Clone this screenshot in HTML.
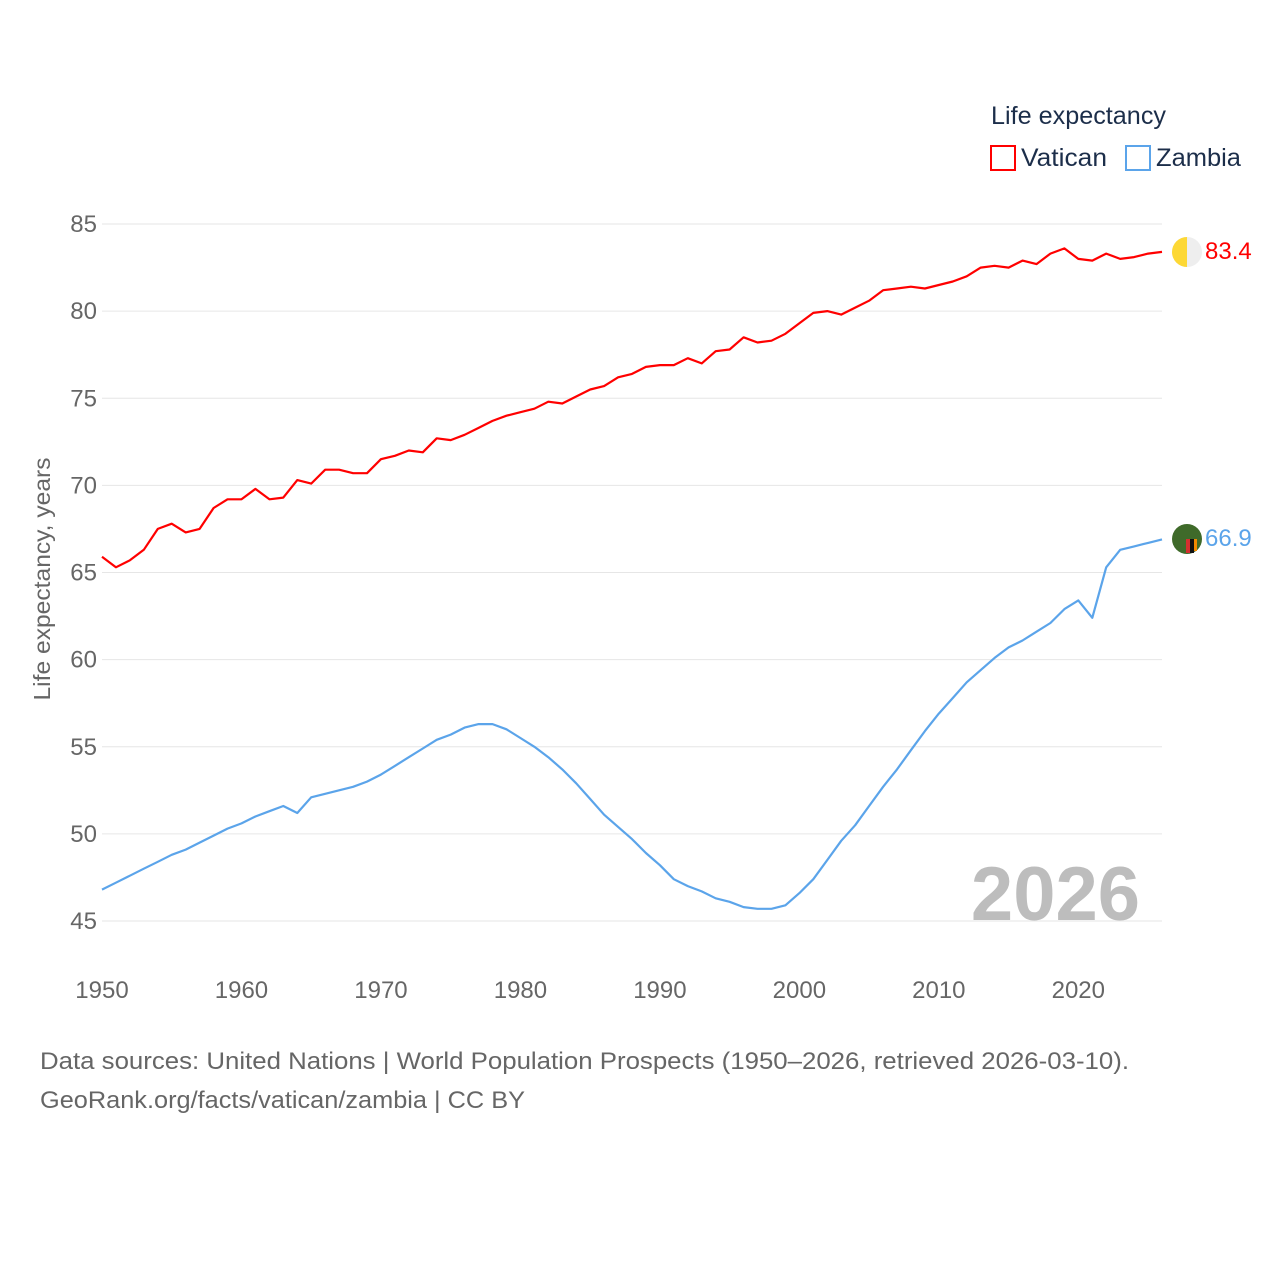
<!DOCTYPE html>
<html><head><meta charset="utf-8"><style>
body{margin:0;background:#fff;}
svg text{font-family:"Liberation Sans",sans-serif;}
</style></head><body>
<svg id="c" width="1280" height="1280" viewBox="0 0 1280 1280">
<g id="grid"></g>
<g id="yticks"></g>
<g id="xticks"></g>
<text x="50" y="579" transform="rotate(-90 50 579)" text-anchor="middle" font-size="23" fill="#666" textLength="243" lengthAdjust="spacingAndGlyphs">Life expectancy, years</text>
<text x="1140" y="920" text-anchor="end" font-size="76" font-weight="bold" fill="#bdbdbd">2026</text>
<g id="series"></g>
<g>
<text x="991" y="124" font-size="25" fill="#1c2e4a" textLength="175" lengthAdjust="spacingAndGlyphs">Life expectancy</text>
<g>
<rect x="991" y="146" width="24" height="24" fill="none" stroke="#f00" stroke-width="2"/>
<text x="1021" y="166" font-size="25" fill="#1c2e4a" textLength="86" lengthAdjust="spacingAndGlyphs">Vatican</text></g>
<g>
<rect x="1126" y="146" width="24" height="24" fill="none" stroke="#5ba4ea" stroke-width="2"/>
<text x="1156" y="166" font-size="25" fill="#1c2e4a" textLength="85" lengthAdjust="spacingAndGlyphs">Zambia</text></g>
</g>
<g>
<circle cx="1187" cy="252" r="15" fill="#eee"/>
<path d="M1187 237 A15 15 0 0 0 1187 267 Z" fill="#fdd835"/>
</g>
<g>
<circle cx="1187" cy="539" r="15" fill="#3f6a2a"/>
<rect x="1186" y="539" width="4" height="14" fill="#d32f2f"/>
<rect x="1190" y="539" width="4" height="14" fill="#111"/>
<rect x="1194" y="539" width="3" height="12" fill="#f08a00"/>
</g>
<text x="1205" y="259" font-size="24" fill="#f00">83.4</text>
<text x="1205" y="546" font-size="24" fill="#5ba4ea">66.9</text>
<text x="40" y="1069" font-size="24" fill="#666" textLength="1089" lengthAdjust="spacingAndGlyphs">Data sources: United Nations | World Population Prospects (1950–2026, retrieved 2026-03-10).</text>
<text x="40" y="1108" font-size="24" fill="#666" textLength="485" lengthAdjust="spacingAndGlyphs">GeoRank.org/facts/vatican/zambia | CC BY</text>
</svg>
<script>
const years=[];for(let y=1950;y<=2026;y++)years.push(y);
const vatican=[65.9,65.3,65.7,66.3,67.5,67.8,67.3,67.5,68.7,69.2,69.2,69.8,69.2,69.3,70.3,70.1,70.9,70.9,70.7,70.7,71.5,71.7,72.0,71.9,72.7,72.6,72.9,73.3,73.7,74.0,74.2,74.4,74.8,74.7,75.1,75.5,75.7,76.2,76.4,76.8,76.9,76.9,77.3,77.0,77.7,77.8,78.5,78.2,78.3,78.7,79.3,79.9,80.0,79.8,80.2,80.6,81.2,81.3,81.4,81.3,81.5,81.7,82.0,82.5,82.6,82.5,82.9,82.7,83.3,83.6,83.0,82.9,83.3,83.0,83.1,83.3,83.4];
const zambia=[46.8,47.2,47.6,48.0,48.4,48.8,49.1,49.5,49.9,50.3,50.6,51.0,51.3,51.6,51.2,52.1,52.3,52.5,52.7,53.0,53.4,53.9,54.4,54.9,55.4,55.7,56.1,56.3,56.3,56.0,55.5,55.0,54.4,53.7,52.9,52.0,51.1,50.4,49.7,48.9,48.2,47.4,47.0,46.7,46.3,46.1,45.8,45.7,45.7,45.9,46.6,47.4,48.5,49.6,50.5,51.6,52.7,53.7,54.8,55.9,56.9,57.8,58.7,59.4,60.1,60.7,61.1,61.6,62.1,62.9,63.4,62.4,65.3,66.3,66.5,66.7,66.9];
const yTicks=[45,50,55,60,65,70,75,80,85];
const xTicks=[1950,1960,1970,1980,1990,2000,2010,2020];
const NS="http://www.w3.org/2000/svg";
const X=v=>102+(v-1950)*(1162-102)/76;
const Y=v=>921-(v-45)*(921-224)/40;
function mk(tag,attrs,parent,txt){const e=document.createElementNS(NS,tag);for(const k in attrs)e.setAttribute(k,attrs[k]);if(txt!==undefined)e.textContent=txt;document.getElementById(parent).appendChild(e);return e;}
yTicks.forEach(t=>{
 const l=mk('line',{x1:102,x2:1162,y1:Y(t),y2:Y(t),stroke:'#e6e6e6','stroke-width':1},'grid');
 
 
 const tx=mk('text',{x:97,y:Y(t)+8,'text-anchor':'end','font-size':24,fill:'#666'},'yticks',t);
 
 
});
xTicks.forEach(t=>{
 const tx=mk('text',{x:X(t),y:998,'text-anchor':'middle','font-size':24,fill:'#666'},'xticks',t);
 
 
});
function line(vals,color,name){
 const d=vals.map((v,i)=>(i?'L':'M')+X(years[i]).toFixed(1)+' '+Y(v).toFixed(1)).join(' ');
 const p=mk('path',{d:d,fill:'none',stroke:color,'stroke-width':2.2,'stroke-linejoin':'round'},'series');
 
 
}
line(vatican,'#f00','vatican-line');
line(zambia,'#5ba4ea','zambia-line');
</script>
</body></html>
